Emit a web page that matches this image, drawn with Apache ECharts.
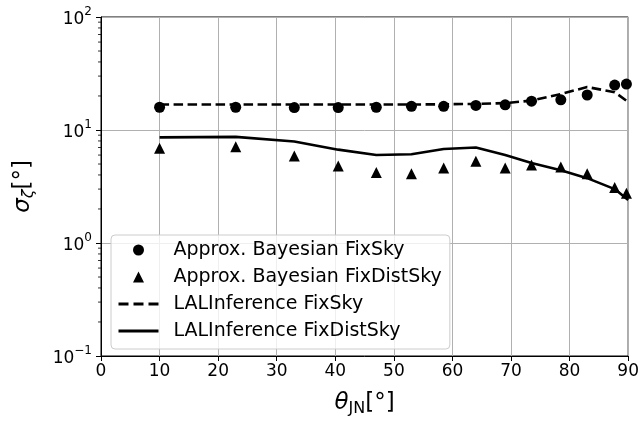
<!DOCTYPE html>
<html>
<head>
<meta charset="utf-8">
<script src="https://cdn.jsdelivr.net/npm/echarts@6/dist/echarts.min.js"></script>
<style>
html,body{margin:0;padding:0;background:#fff;}
#c{width:642px;height:422px;}
</style>
</head>
<body>
<div id="c"></div>
<script>
// x positions (theta_JN, degrees)
const thetaPts = [10, 23, 33, 40.5, 47, 53, 58.5, 64, 69, 73.5, 78.5, 83, 87.7, 89.7];
const thetaLine = [10, 23, 33, 40.5, 47, 53, 58.5, 64, 69, 73.5, 78.5, 83, 87.7, 90];
// Approx. Bayesian FixSky (circles)
const approxFixSky = [15.9, 15.9, 15.8, 15.8, 15.9, 16.2, 16.2, 16.5, 16.7, 18.0, 18.5, 20.4, 25.0, 25.5];
// Approx. Bayesian FixDistSky (triangles)
const approxFixDistSky = [6.9, 7.1, 5.9, 4.8, 4.2, 4.1, 4.6, 5.3, 4.6, 4.9, 4.7, 4.1, 3.1, 2.75];
// LALInference FixSky (dashed)
const lalFixSky = [16.8, 16.8, 16.8, 16.8, 16.8, 16.8, 16.9, 17.0, 17.3, 18.2, 20.8, 24.0, 21.6, 17.7];
// LALInference FixDistSky (solid)
const lalFixDistSky = [8.6, 8.7, 7.9, 6.7, 6.0, 6.1, 6.8, 7.0, 6.0, 5.1, 4.4, 3.75, 3.0, 2.4];
// minor log ticks on y axis
const yMinorTicks = [0.2,0.3,0.4,0.5,0.6,0.7,0.8,0.9,2,3,4,5,6,7,8,9,20,30,40,50,60,70,80,90];
const seriesNames = ['Approx. Bayesian FixSky','Approx. Bayesian FixDistSky','LALInference FixSky','LALInference FixDistSky'];

const F = 'DejaVu Sans';
const pair = (xs, ys) => xs.map((x, i) => [x, ys[i]]);
const supMap = {'-1':'−1','0':'0','1':'1','2':'2'};
const TRI = 'path://M5,0 L10,10 L0,10 Z';

const chart = echarts.init(document.getElementById('c'), null, {renderer:'canvas'});
chart.setOption({
  animation: false,
  backgroundColor: '#fff',
  grid: {left: 101, right: 12, top: 17, bottom: 61, show: true, borderColor: '#000', borderWidth: 1, backgroundColor: 'transparent'},
  legend: {
    data: [
      {name: seriesNames[0], icon: 'circle'},
      {name: seriesNames[1], icon: TRI},
      {name: seriesNames[2], itemStyle: {opacity: 0}, lineStyle: {width: 3, type: [10, 5]}},
      {name: seriesNames[3], itemStyle: {opacity: 0}, lineStyle: {width: 3}}
    ],
    symbolKeepAspect: true,
    orient: 'vertical', left: 111, top: 235,
    itemWidth: 40, itemHeight: 11, itemGap: 7,
    textStyle: {fontFamily: F, fontSize: 19, color: '#000', lineHeight: 20, padding: [0,0,0,10]},
    backgroundColor: 'rgba(255,255,255,0.8)', borderColor: '#cccccc', borderWidth: 1, borderRadius: 4,
    padding: [5, 8, 8, 6]
  },
  xAxis: {
    type: 'value', min: 0, max: 90, interval: 10,
    name: '{i|θ}{s|JN}{n|[°]}', nameLocation: 'middle', nameGap: 33,
    nameTextStyle: {rich: {
      i: {fontFamily: F, fontStyle: 'italic', fontSize: 23, color: '#000', lineHeight: 28, verticalAlign: 'middle'},
      s: {fontFamily: F, fontSize: 16, color: '#000', lineHeight: 15, verticalAlign: 'bottom'},
      n: {fontFamily: F, fontSize: 23, color: '#000', lineHeight: 28, verticalAlign: 'middle'}
    }},
    axisLine: {lineStyle: {color: '#000', width: 1}},
    axisTick: {show: true, inside: false, length: 5, lineStyle: {color: '#000'}},
    axisLabel: {fontFamily: F, fontSize: 17, color: '#000', margin: 7},
    splitLine: {show: true, lineStyle: {color: '#b0b0b0', width: 1}}
  },
  yAxis: {
    type: 'log', logBase: 10, min: 0.1, max: 100,
    name: '{i|σ}{s|ζ}{n|[°]}', nameLocation: 'middle', nameGap: 64, nameRotate: 90,
    nameTextStyle: {rich: {
      i: {fontFamily: F, fontStyle: 'italic', fontSize: 23, color: '#000', lineHeight: 28, verticalAlign: 'middle'},
      s: {fontFamily: F, fontStyle: 'italic', fontSize: 16, color: '#000', lineHeight: 15, verticalAlign: 'bottom'},
      n: {fontFamily: F, fontSize: 23, color: '#000', lineHeight: 28, verticalAlign: 'middle'}
    }},
    axisLine: {show: true, lineStyle: {color: '#000', width: 1}},
    axisTick: {show: true, inside: false, length: 5, lineStyle: {color: '#000'}},
    axisLabel: {
      margin: 9,
      formatter: function (v) {
        const e = String(Math.round(Math.log10(v)));
        return '{b|10}{p|' + supMap[e] + '}';
      },
      rich: {
        b: {fontFamily: F, fontSize: 17, color: '#000', lineHeight: 22, verticalAlign: 'bottom'},
        p: {fontFamily: F, fontSize: 12, color: '#000', lineHeight: 12, verticalAlign: 'top'}
      }
    },
    splitLine: {show: true, lineStyle: {color: '#b0b0b0', width: 1}}
  },
  series: [
    {
      name: seriesNames[2], type: 'line', data: pair(thetaLine, lalFixSky),
      symbol: 'none', z: 3,
      lineStyle: {color: '#000', width: 2.6, type: [9.5, 4.5]},
      itemStyle: {color: '#000'}
    },
    {
      name: seriesNames[3], type: 'line', data: pair(thetaLine, lalFixDistSky),
      symbol: 'none', z: 3,
      lineStyle: {color: '#000', width: 2.6, type: 'solid'},
      itemStyle: {color: '#000'}
    },
    {
      name: seriesNames[0], type: 'scatter', data: pair(thetaPts, approxFixSky),
      symbol: 'circle', symbolSize: 11, z: 4,
      itemStyle: {color: '#000', opacity: 1}
    },
    {
      name: seriesNames[1], type: 'scatter', data: pair(thetaPts, approxFixDistSky),
      symbol: 'triangle', symbolSize: 11, z: 4,
      itemStyle: {color: '#000', opacity: 1}
    },
    {
      type: 'custom', silent: true, clip: false, z: 5,
      data: yMinorTicks.map(v => [0, v]),
      renderItem: function (params, api) {
        const p = api.coord([0, api.value(1)]);
        return {type: 'line', shape: {x1: p[0] - 3, y1: p[1], x2: p[0], y2: p[1]},
                style: {stroke: '#000', lineWidth: 0.8}};
      }
    }
  ]
});
</script>
</body>
</html>
